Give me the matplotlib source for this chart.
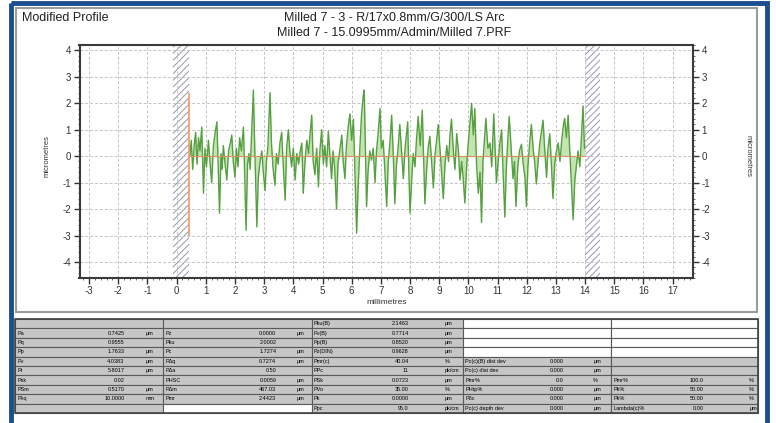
import matplotlib
matplotlib.use("Agg")
import matplotlib.pyplot as plt
from matplotlib.patches import Rectangle
from matplotlib.ticker import MultipleLocator

plt.rcParams['font.family'] = ['Liberation Sans', 'DejaVu Sans']
plt.rcParams['hatch.linewidth'] = 0.7
plt.rcParams['axes.unicode_minus'] = False

# profile (mm, micrometres)
profile_x = [
    0.45, 0.50, 0.55, 0.60, 0.65, 0.70, 0.75, 0.80, 0.86, 0.92,
    0.97, 1.02, 1.09, 1.14, 1.20, 1.26, 1.32, 1.38, 1.43, 1.47,
    1.52, 1.56, 1.60, 1.66, 1.72, 1.78, 1.84, 1.89, 1.94, 2.00,
    2.05, 2.10, 2.16, 2.22, 2.29, 2.33, 2.38, 2.43, 2.48, 2.52,
    2.57, 2.63, 2.68, 2.75, 2.80, 2.86, 2.92, 2.97, 3.03, 3.08,
    3.13, 3.20, 3.25, 3.30, 3.37, 3.42, 3.48, 3.54, 3.60, 3.66,
    3.72, 3.77, 3.83, 3.88, 3.94, 4.00, 4.06, 4.12, 4.18, 4.24,
    4.29, 4.34, 4.40, 4.46, 4.52, 4.57, 4.63, 4.68, 4.74, 4.80,
    4.86, 4.91, 4.97, 5.03, 5.08, 5.14, 5.20, 5.25, 5.31, 5.36,
    5.42, 5.48, 5.53, 5.60, 5.66, 5.71, 5.77, 5.82, 5.88, 5.94,
    6.00, 6.06, 6.12, 6.17, 6.22, 6.28, 6.34, 6.40, 6.43, 6.47,
    6.51, 6.56, 6.62, 6.68, 6.74, 6.80, 6.85, 6.91, 6.97, 7.02,
    7.08, 7.14, 7.20, 7.25, 7.31, 7.37, 7.42, 7.48, 7.53, 7.59,
    7.65, 7.71, 7.77, 7.83, 7.92, 7.96, 8.00, 8.06, 8.11, 8.17,
    8.22, 8.28, 8.35, 8.42, 8.47, 8.51, 8.57, 8.62, 8.68, 8.74,
    8.80, 8.86, 8.91, 8.97, 9.03, 9.08, 9.14, 9.20, 9.26, 9.32,
    9.37, 9.42, 9.48, 9.54, 9.60, 9.66, 9.71, 9.77, 9.82, 9.88,
    9.94, 9.99, 10.05, 10.11, 10.17, 10.22, 10.28, 10.34, 10.40, 10.45,
    10.50, 10.55, 10.60, 10.67, 10.74, 10.80, 10.87, 10.92, 10.96, 11.02,
    11.08, 11.14, 11.19, 11.25, 11.30, 11.35, 11.40, 11.46, 11.53, 11.58,
    11.63, 11.69, 11.75, 11.82, 11.88, 11.94, 11.99, 12.04, 12.10, 12.16,
    12.22, 12.28, 12.33, 12.39, 12.45, 12.50, 12.56, 12.62, 12.68, 12.73,
    12.79, 12.85, 12.90, 12.96, 13.02, 13.08, 13.14, 13.20, 13.26, 13.30,
    13.36, 13.42, 13.48, 13.54, 13.59, 13.65, 13.71, 13.76, 13.82, 13.87,
    13.93, 13.98,
]
profile_um = [
    0.0, 0.6, -0.5, 0.4, 0.9, -0.3, 0.7, 0.2, 1.1, -1.4,
    0.3, -0.4, 0.6, -0.2, -1.0, 0.4, 0.9, 1.3, -0.6, -2.15,
    0.1, -0.5, 0.4, -0.3, -0.9, 0.2, 0.5, 0.8, -0.2, -0.8,
    0.3, -0.4, 0.7, 0.2, 1.1, -0.6, -2.8, -0.3, 0.1, -0.5,
    0.9, 2.5, 0.2, -2.67, -0.8, -0.2, 0.2, -0.6, -1.3, -0.2,
    0.4, 2.4, 0.5, -0.4, -1.1, 0.1, -0.3, 0.5, 0.9, -0.5,
    -1.66, 0.3, 1.0, 0.2, -0.4, 0.3, -0.9, 0.1, -0.3, 0.2,
    0.5, -1.4, -0.2, 0.6, 0.1, 0.8, 1.55, -0.2, -0.7, 0.3,
    -1.16, 0.2, 1.0, -0.3, 0.4, -0.4, 0.95, 0.1, -0.85, 0.2,
    -0.5, -2.0, -0.3, 0.3, 0.8, -0.2, -0.85, 0.4, 1.1, 1.6,
    0.6, 1.4, -1.0, -2.9, -1.2, 0.3, 1.6, 2.3, 2.5, 0.2,
    -1.9, -0.6, 0.2, -0.15, 0.3, -1.0, 0.2, 0.9, 1.8, 0.3,
    0.6, -0.6, -1.9, -0.3, 0.5, 1.55, 0.2, -1.8, -0.4, 0.3,
    1.2, 0.2, -0.85, 0.3, 1.3, -0.6, -2.15, -0.8, 0.1, -0.4,
    0.6, 1.5, 0.4, 1.74, -0.2, -1.8, -0.5, 0.3, 0.75, -0.2,
    -1.2, 0.1, 0.6, 1.2, 0.2, -0.6, -1.6, -0.3, 0.4, -0.2,
    0.8, 1.4, 0.3, -0.5, 0.85, 0.2, -0.9, -0.2, -0.8, -1.77,
    -0.4, 0.4, 1.2, 2.0, 0.8, 1.8, -0.3, -1.4, -0.6, -2.5,
    -0.2, 0.6, 1.43, 0.3, 0.5, -0.4, 1.6, 0.2, -1.0, -0.2,
    0.5, 1.0, -0.6, -2.3, -0.5, 0.6, 1.5, 0.4, -0.85, -0.2,
    -1.9, -0.5, 0.2, 0.45, -0.3, -0.8, -1.9, -0.4, 0.5, 1.2,
    0.3, -0.3, -1.05, -0.2, 0.5, 0.9, 1.36, 0.2, -0.8, 0.3,
    0.85, -0.4, -1.6, -0.3, 0.2, 0.5, -0.2, 0.6, 1.2, 1.43,
    0.7, 1.55, 0.1, -1.2, -2.4, -0.9, -0.3, 0.2, -0.4, 0.6,
    1.9, 0.3,
]

x_ticks = list(range(-3, 18))
y_ticks = list(range(-4, 5))
mean_level = 0.0
eval_start, eval_end = 0.42, 14.0
excluded_bands = [(-0.12, 0.42), (14.0, 14.5)]
cursor_top, cursor_bottom = 2.4, -3.0

title_left = "Modified Profile"
title_lines = ["Milled 7 - 3 - R/17x0.8mm/G/300/LS Arc",
               "Milled 7 - 15.0995mm/Admin/Milled 7.PRF"]

# parameter table, one list per column block (label, value, unit); None = empty cell
block_a = [None, ("Pa", "0.7425", "µm"), ("Pq", "0.9555", ""), ("Pp", "1.7633", "µm"),
           ("Pv", "4.0383", "µm"), ("Pt", "5.8017", "µm"), ("Psk", "0.02", ""),
           ("PSm", "0.5170", "µm"), ("Pλq", "10.0000", "mm"), None]
block_b = [None, ("Pz", "0.0000", "µm"), ("Pku", "2.0002", ""), ("Pc", "1.7274", "µm"),
           ("PΔq", "0.7274", "µm"), ("PΔa", "0.50", ""), ("PHSC", "0.0059", "µm"),
           ("PΔm", "467.03", "µm"), ("Pmr", "2.4423", "µm"), None]
block_c = [("Pku(B)", "2.1463", "µm"), ("Pv(B)", "0.7714", "µm"), ("Pp(B)", "0.8520", "µm"),
           ("Pz(DIN)", "0.9628", "µm"), ("Pmr(c)", "40.04", "%"), ("PPc", "11", "pk/cm"),
           ("PSk", "0.0723", "µm"), ("PVo", "35.00", "%"), ("Pk", "0.0000", "µm"),
           ("Ppc", "95.0", "pk/cm")]
block_d = [None, None, None, None,
           ("Pc(c)(B) dist dev", "0.000", "µm"), ("Pc(c) dist dev", "0.000", "µm"),
           ("Pmr%", "0.0", "%"), ("PHtp%", "0.000", "µm"), ("Pδc", "0.000", "µm"),
           ("Pc(c) depth dev", "0.000", "µm")]
block_e = [None, None, None, None, None, None,
           ("Pmr%", "100.0", "%"), ("Pk%", "50.00", "%"), ("Pk%", "50.00", "%"),
           ("Lambda(c)%", "0.00", "µm")]
blocks = [block_a, block_b, block_c, block_d, block_e]
white_cells = {(1, 9), (3, 0), (3, 1), (3, 2), (3, 3), (4, 0), (4, 1), (4, 2), (4, 3)}

W, H = 776, 423
fig = plt.figure(figsize=(W / 100, H / 100), dpi=100)

# page furniture in pixel coordinates
bg = fig.add_axes([0, 0, 1, 1], zorder=0)
bg.set_xlim(0, W)
bg.set_ylim(H, 0)
bg.axis('off')
bg.add_patch(Rectangle((11, 3.5), 756, 440, fill=False, ec='#1c4d8e', lw=3.5))
bg.add_patch(Rectangle((16, 8.5), 741, 304, fill=False, ec='#9c9c9c', lw=1.5))

fig.text(22 / W, 1 - 18 / H, title_left, fontsize=9, va='center', color='#222222')
for i, line in enumerate(title_lines):
    fig.text(394 / W, 1 - (18 + 15 * i) / H, line, fontsize=9, ha='center',
             va='center', color='#222222')

# table
edges = [15, 163, 312, 463, 611, 758]
value_at = [0.74, 0.76, 0.64, 0.68, 0.63]
unit_at = [0.88, 0.90, 0.88, 0.88, 0.94]
top, row_h = 319, 9.4
for b, block in enumerate(blocks):
    left, right = edges[b], edges[b + 1]
    w = right - left
    for r, cell in enumerate(block):
        y0 = top + r * row_h
        face = 'white' if (b, r) in white_cells else '#c6c6c6'
        bg.add_patch(Rectangle((left, y0), w, row_h, fc=face, ec='#5a5a5a', lw=0.8))
        if cell is None:
            continue
        label, value, unit = cell
        yc = y0 + row_h / 2
        bg.text(left + 2, yc, label, fontsize=4, va='center', ha='left')
        bg.text(left + value_at[b] * w, yc, value, fontsize=4, va='center', ha='right')
        bg.text(left + unit_at[b] * w, yc, unit, fontsize=4, va='center', ha='left')
bg.add_patch(Rectangle((edges[0], top), edges[-1] - edges[0], 10 * row_h,
                       fill=False, ec='#444444', lw=1.2))

# profile axes
ax = fig.add_axes([79.5 / W, 1 - 278 / H, (693 - 79.5) / W, (278 - 45) / H], zorder=1)
ax.set_xlim(-3.33, 17.7)
ax.set_ylim(-4.6, 4.2)

ax.grid(True, which='major', color='#c4c4c4', ls=(0, (3, 2)), lw=0.7, zorder=0)
for lo, hi in excluded_bands:
    ax.axvspan(lo, hi, facecolor='none', edgecolor='#9499b0', hatch='/////', lw=0, zorder=1)

ax.fill_between(profile_x, profile_um, mean_level, color='#c6e3b2', lw=0, zorder=2)
ax.plot(profile_x, profile_um, color='#55a040', lw=1.0, zorder=3)
ax.hlines(mean_level, eval_start, eval_end, color='#d98f5e', lw=0.8, zorder=4)
ax.vlines(eval_start, cursor_bottom, cursor_top, color='#f29a66', lw=1.2, zorder=4)

ax.set_xticks(x_ticks)
ax.set_yticks(y_ticks)
ax.xaxis.set_minor_locator(MultipleLocator(0.2))
ax.yaxis.set_minor_locator(MultipleLocator(0.2))
ax.tick_params(which='major', direction='out', length=4, width=1, labelsize=7,
               colors='#333333', right=True, labelright=True, pad=2)
ax.tick_params(which='minor', direction='out', length=1.5, width=0.6,
               colors='#555555', right=True)
for s in ax.spines.values():
    s.set_linewidth(1.5)
    s.set_color('#3a3a3a')
ax.set_xlabel('millimetres', fontsize=6, labelpad=2, color='#333333')
fig.text(47 / W, 1 - 156 / H, 'micrometres', fontsize=5.5, rotation=90,
         ha='center', va='center', color='#333333')
fig.text(748 / W, 1 - 156 / H, 'micrometres', fontsize=5.5, rotation=270,
         ha='center', va='center', color='#333333')

fig.savefig('out.png', dpi=100)
